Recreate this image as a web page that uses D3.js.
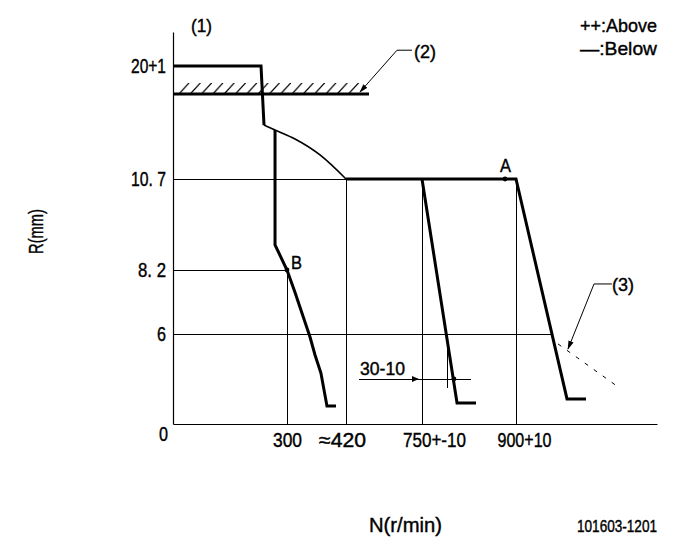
<!DOCTYPE html>
<html><head><meta charset="utf-8">
<script src="https://cdn.jsdelivr.net/npm/d3@7"></script>
<style>
html,body{margin:0;padding:0;background:#fff}
svg{display:block}
text{font-family:"Liberation Sans",sans-serif;fill:#000;stroke:#000;stroke-width:.4px}
</style></head><body>
<svg id="c" width="685" height="549"></svg>
<script>
// Axis calibration (the drawing is not to scale)
const nBreaks=[0,300,420,750,900,1125];
const rBreaks=[0,6,8.2,10.7,20,22.8];
const nTicks=[300,420,750,900];
const nTickLabels=["300","≈420","750+-10","900+10"];
const rTicks=[0,6,8.2,10.7,20];
const rTickLabels=["0","6","8. 2","10. 7","20+1"];
// Curves as [N, R]
const topStep=[[0,20],[231.6,20],[239.5,15.14]];
const droopCurve=[[239.5,15.14],[268.5,14.73],[316.3,13.99],[367.1,12.68],[420,10.7]];
const lowGovernor=[[268.5,14.73],[268.5,8.89],[300,8.2],[316,7.44],[346.8,5.8],[357,4.6],[369,3.4],[381.3,1.2],[399.6,1.2]];
const fullLoad=[[420,10.7],[900,10.7],[981.4,1.67],[1011.7,1.67]];
const midGovernor=[[750,10.7],[805.9,1.4],[836.2,1.4]];
const dashedCurve=[[967,5.34],[1061,2.53]];
const stopLine=[[0,17.7],[519.9,17.7]];
const guides=[
 [[0,10.7],[420,10.7],[420,0]],
 [[0,8.2],[300,8.2],[300,0]],
 [[0,6],[959,6]],
 [[750,10.7],[750,0]],
 [[900,10.7],[900,0]]];
const tolLine=[[476.4,3],[828.2,3]];
const tolDrop=[[789.9,6],[789.9,2.4]];
const leader2=[[706.6,21.3],[641.4,21.3],[480.8,17.86]];
const leader3=[[1053,7.72],[1024.5,7.72],[983,5]];
const dots=[[882.5,10.7],[300,8.2],[801,3]];
const arrowPt=[[719.6,3]];

const svg=d3.select("#c");
const x=d3.scaleLinear().domain(nBreaks).range([173,287,346,422,516,657]);
const y=d3.scaleLinear().domain(rBreaks).range([424,334,270,179,66,32]);
const line=d3.line().x(d=>x(d[0])).y(d=>y(d[1]));
const smooth=d3.line().x(d=>x(d[0])).y(d=>y(d[1])).curve(d3.curveMonotoneX);

const defs=svg.append("defs");
const p=defs.append("pattern").attr("id","hatch").attr("patternUnits","userSpaceOnUse")
 .attr("width",11.3).attr("height",11).attr("x",178).attr("y",83);
p.append("line").attr("x1",1).attr("y1",11).attr("x2",11).attr("y2",0).attr("stroke","#000").attr("stroke-width",1.2);
defs.append("marker").attr("id","arr").attr("viewBox","0 0 10 6").attr("refX",9).attr("refY",3)
 .attr("markerWidth",9).attr("markerHeight",6).attr("markerUnits","userSpaceOnUse").attr("orient","auto")
 .append("path").attr("d","M0,0L10,3L0,6Z");

const path=(d,w,extra)=>{const s=svg.append("path").attr("d",line(d)).attr("fill","none").attr("stroke","#000").attr("stroke-width",w).attr("stroke-linejoin","miter");if(extra)extra(s);return s;};

// hatching above the stop line
svg.append("rect").attr("x",x(0)+5).attr("width",x(519.9)-x(0)-15)
 .attr("y",y(17.7)-11).attr("height",11).attr("fill","url(#hatch)");

const crisp=s=>s.attr("shape-rendering","crispEdges");
guides.forEach(g=>path(g,1,crisp));
path(tolLine,1,crisp); path(tolDrop,1,crisp);

// axes
const yAxis=svg.append("g").attr("transform",`translate(${x(0)},0)`)
 .call(d3.axisLeft(y).tickValues(rTicks).tickSize(0).tickPadding(7).tickFormat((d,i)=>rTickLabels[i]));
const xAxis=svg.append("g").attr("transform",`translate(0,${y(0)})`)
 .call(d3.axisBottom(x).tickValues(nTicks).tickSize(0).tickPadding(9).tickFormat((d,i)=>nTickLabels[i]));
yAxis.select(".domain").attr("stroke","#000").attr("stroke-width",1.2);
xAxis.select(".domain").attr("stroke","#000").attr("stroke-width",1.2);
const yW=[9,9,28,35,35], xW=[29,47,63,54], xShift=[0,-4,12,8];
yAxis.selectAll("text").attr("font-size",20).attr("textLength",(d,i)=>yW[i]).attr("lengthAdjust","spacingAndGlyphs")
 .attr("dx",d=>d===0?2:0).attr("dy",d=>d===0?"0.8em":"0.34em");
xAxis.selectAll("text").attr("font-size",20).attr("textLength",(d,i)=>xW[i]).attr("lengthAdjust","spacingAndGlyphs")
 .attr("dx",(d,i)=>xShift[i]);

// curves
path(topStep,3);
svg.append("path").attr("d",smooth(droopCurve)).attr("fill","none").attr("stroke","#000").attr("stroke-width",1.7);
path(lowGovernor,3);
path(fullLoad,3);
path(midGovernor,3);
path(stopLine,3);
path(dashedCurve,1,s=>s.attr("stroke-dasharray","4 7"));
path(leader2,1,s=>s.attr("marker-end","url(#arr)"));
path(leader3,1,s=>s.attr("marker-end","url(#arr)"));

svg.selectAll("circle.d").data(dots).join("circle").attr("class","d")
 .attr("cx",d=>x(d[0])).attr("cy",d=>y(d[1])).attr("r",2.4).attr("fill","#000");
svg.selectAll("path.a").data(arrowPt).join("path").attr("class","a")
 .attr("transform",d=>`translate(${x(d[0])},${y(d[1])})`).attr("d","M-3,-3L4,0L-3,3Z").attr("fill","#000");

// text labels
const label=(s,px,py,w,fs,extra)=>{const t=svg.append("text").text(s).attr("x",px).attr("y",py).attr("font-size",fs)
 .attr("textLength",w).attr("lengthAdjust","spacingAndGlyphs");if(extra)extra(t);return t;};
label("(1)",191,32,21,19);
label("(2)",414,58,22,19);
label("(3)",612,291,22,19);
label("A",x(882.5)-5,172,11,18);
label("B",x(300)+4,269,11,18);
label("30-10",360,375,45,18);
label("++:Above",580,32,77,19);
label("—:Below",580,55,77,19);
label("N(r/min)",369,532,73,21);
label("101603-1201",577,532,80,16);
label("R(mm)",0,0,45,20,t=>t.attr("transform","translate(43,254) rotate(-90)"));
</script></body></html>
